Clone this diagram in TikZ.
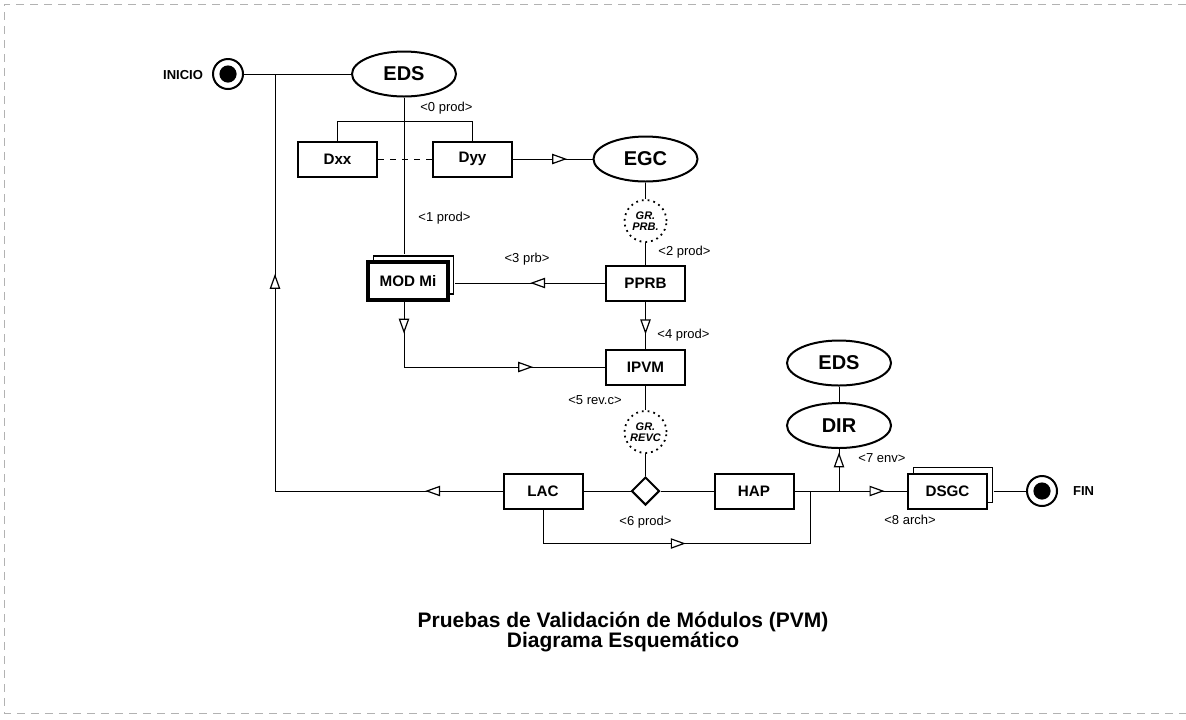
\documentclass[tikz,border=0pt]{standalone}
\usepackage{fontspec}
\setmainfont{Liberation Sans}
\usetikzlibrary{shapes.geometric, arrows.meta, positioning, shadows, decorations.markings}

\begin{document}
\begin{tikzpicture}[
    x=0.5pt, y=-0.5pt,
    >={Triangle[length=7.5pt, width=5.2pt, fill=white, line width=0.6pt]},
    box/.style={rectangle, draw=black, line width=1pt, fill=white, minimum width=39.5pt, minimum height=17.5pt, inner sep=0pt, font=\fontsize{7.6}{8}\selectfont\bfseries},
    stackbox/.style={box, copy shadow={shadow xshift=2.8pt, shadow yshift=3pt, fill=white, draw=black, line width=0.7pt}},
    entity/.style={ellipse, draw=black, line width=1pt, minimum width=52pt, minimum height=22.5pt, inner sep=0pt, font=\fontsize{10}{12}\selectfont\bfseries},
    group/.style={circle, draw=black, dotted, line width=0.9pt, minimum size=21pt, inner sep=0pt, align=center, font=\fontsize{5.5}{5.2}\selectfont\bfseries\itshape},
    term/.style={circle, draw=black, line width=1pt, minimum size=15pt, inner sep=0pt, path picture={\fill[black] (path picture bounding box.center) circle (4.3pt);}},
    decision/.style={diamond, draw=black, line width=1pt, minimum size=14pt, inner sep=0pt},
    lbl/.style={font=\fontsize{6.5}{7}\selectfont, inner sep=0pt},
    link/.style={line width=0.5pt},
    arrow/.style={postaction={decorate, decoration={markings, mark=at position #1 with {\arrow{>}}}}}
]
\useasboundingbox (0,0) rectangle (1186,719);

% scan frame
\draw[gray!60, line width=0.4pt, dash pattern=on 4pt off 3pt] (1186,4) -- (4,4) -- (4,713) -- (1186,713);

% Start and top entity
\node[font=\fontsize{6.5}{7}\selectfont\bfseries] (inicio) at (183,75) {INICIO};
\node[term] (ini) at (228,74) {};
\node[entity] (eds1) at (404,74) {EDS};
\coordinate (split) at (275,74);

% Documents
\node[box] (dxx) at (337.5,159) {Dxx};
\node[box] (dyy) at (472.5,159) {Dyy};
\node[entity] (egc) at (645.5,159) {EGC};

% Test preparation
\node[group] (grprb) at (645.5,221) {GR.\\PRB.};
\node[box] (pprb) at (645.5,283) {PPRB};
\node[stackbox, line width=1.7pt, minimum width=40pt, minimum height=19pt] (mod) at (408,281) {MOD Mi};
\node[box] (ipvm) at (645.5,367) {IPVM};

% Review and decision
\node[group] (grrevc) at (645.5,432) {GR.\\REVC};
\node[decision] (dec) at (645.5,491) {};
\node[box] (lac) at (543,491) {LAC};
\node[box] (hap) at (754,491) {HAP};

% Delivery
\node[entity] (eds2) at (839,363) {EDS};
\node[entity] (dir) at (839,425.5) {DIR};
\node[stackbox] (dsgc) at (947.5,491) {DSGC};
\node[term] (fin) at (1042,491) {};
\node[font=\fontsize{6.5}{7}\selectfont\bfseries, right=4pt of fin] (finlbl) {FIN};

% Labels
\node[lbl, anchor=west] (l0) at (420,108) {<0 prod>};
\node[lbl, anchor=west] (l1) at (418,218) {<1 prod>};
\node[lbl, anchor=west] (l2) at (658,252) {<2 prod>};
\node[lbl] (l3) at (527,259) {<3 prb>};
\node[lbl, anchor=west] (l4) at (657,335) {<4 prod>};
\node[lbl, anchor=east] (l5) at (622,400) {<5 rev.c>};
\node[lbl, below=5pt of dec] (l6) {<6 prod>};
\node[lbl, anchor=west] (l7) at (858,458) {<7 env>};
\node[lbl] (l8) at (910,520) {<8 arch>};

% Connectors
\draw[link] (ini.east) -- (eds1.west);
\draw[link] (eds1.south) -- ([yshift=3pt]eds1.south |- mod.north);
\draw[link] (dxx.north) -- ++(0,-19) -| (dyy.north);
\draw[link, dashed] (dxx.east) -- (dyy.west);
\draw[link, arrow=0.68] (dyy.east) -- (egc.west);
\draw[link] (egc.south) -- (grprb.north);
\draw[link] (grprb.south) -- (pprb.north);
\draw[link, arrow=0.5] (pprb.west) -- ([xshift=2.8pt]pprb.west -| mod.east);
\draw[link, arrow=0.7] (pprb.south) -- (ipvm.north);
\draw[link, arrow=0.12, arrow=0.73] (mod.south -| eds1) |- (ipvm.west);
\draw[link] (ipvm.south) -- (grrevc.north);
\draw[link] (grrevc.south) -- (dec.north);
\draw[link] (lac.east) -- (dec.west);
\draw[link] (dec.east) -- (hap.west);
\draw[link, arrow=0.12, arrow=0.69] (lac.west) -| (split);

\coordinate (hapjoin) at (810,491);
\coordinate (dirjoin) at (dir.south |- hap.east);
\draw[link, arrow=0.5] (lac.south) -- ++(0,34) -| (hapjoin);
\draw[link, arrow=0.8] (hap.east) -- (dsgc.west);
\draw[link, arrow=0.92] (dirjoin) -- (dir.south);
\draw[link] (eds2.south) -- (dir.north);
\draw[link] ([xshift=2.8pt]dsgc.east) -- (fin.west);

% Title
\node[font=\fontsize{10.5}{10}\selectfont\bfseries, align=center] (title) at (623,632) {Pruebas de Validación de Módulos (PVM)\\Diagrama Esquemático};

\end{tikzpicture}
\end{document}
